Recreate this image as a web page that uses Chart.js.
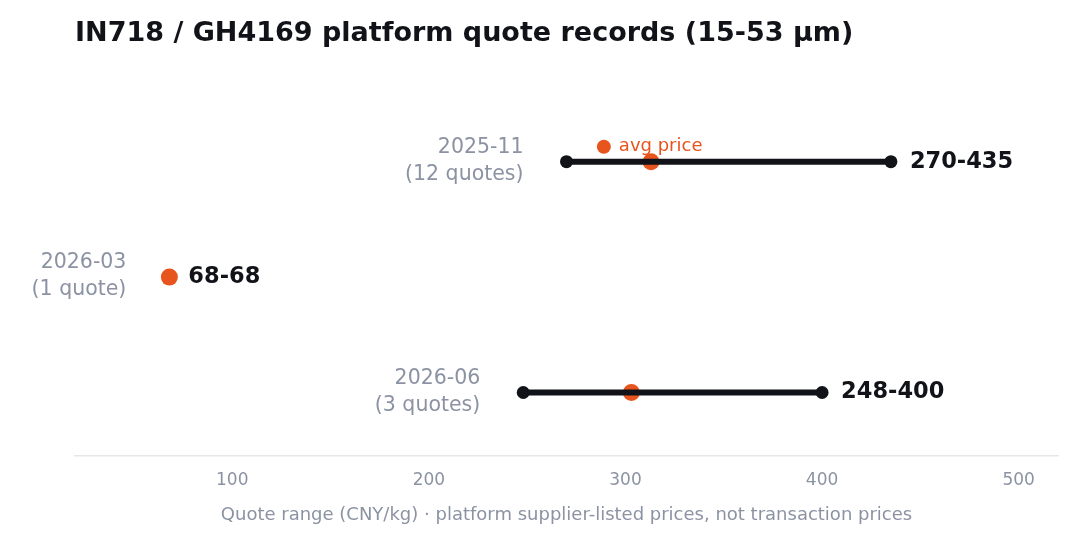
<!DOCTYPE html>
<html><head><meta charset="utf-8">
<script src="https://cdn.jsdelivr.net/npm/chart.js@4"></script>
<style>html,body{margin:0;background:#fff}#wrap{width:1080px;height:540px}</style>
</head><body><div id="wrap"><canvas id="c"></canvas></div>
<script>
const periods = ['2025-11', '2026-03', '2026-06'];
const quoteCounts = ['(12 quotes)', '(1 quote)', '(3 quotes)'];
const lowPrices = [270, 68, 248];
const highPrices = [435, 68, 400];
const avgPrices = [313, 68, 303];
const xTicks = [100, 200, 300, 400, 500];

const DARK = '#111318', ORANGE = '#e8541e', GRAY = '#8b93a3';
const FONT = '"DejaVu Sans", sans-serif';

const datasets = [];
periods.forEach((p, i) => {
    datasets.push({
        data: [{ x: lowPrices[i], y: i }, { x: highPrices[i], y: i }],
        showLine: true, borderColor: DARK, borderWidth: 6,
        pointRadius: lowPrices[i] === highPrices[i] ? 0 : 6.5,
        pointBackgroundColor: DARK, pointBorderWidth: 0
    });
});
datasets.push({
    data: avgPrices.map((v, i) => ({ x: v, y: i })),
    showLine: false, pointRadius: 8.5, pointBackgroundColor: ORANGE, pointBorderWidth: 0
});

const labelsPlugin = {
    id: 'labels',
    afterDatasetsDraw(chart) {
        const ctx = chart.ctx, xs = chart.scales.x, ys = chart.scales.y;
        ctx.save();
        ctx.fillStyle = DARK;
        ctx.font = 'bold 27px ' + FONT;
        ctx.textAlign = 'left'; ctx.textBaseline = 'middle';
        ctx.fillText('IN718 / GH4169 platform quote records (15-53 \u00b5m)', 75, 34);
        periods.forEach((p, i) => {
            const y = ys.getPixelForValue(i);
            const x0 = xs.getPixelForValue(lowPrices[i]);
            const x1 = xs.getPixelForValue(highPrices[i]);
            ctx.font = '20.5px ' + FONT; ctx.fillStyle = GRAY; ctx.textAlign = 'right';
            ctx.fillText(p, x0 - 43, y - 14);
            ctx.fillText(quoteCounts[i], x0 - 43, y + 13);
            ctx.font = 'bold 22.5px ' + FONT; ctx.fillStyle = DARK; ctx.textAlign = 'left';
            ctx.fillText(lowPrices[i] + '-' + highPrices[i], x1 + 19, y);
        });
        // legend
        const ly = ys.getPixelForValue(0) - 15, lx = xs.getPixelForValue(289);
        ctx.fillStyle = ORANGE;
        ctx.beginPath(); ctx.arc(lx, ly, 7, 0, Math.PI * 2); ctx.fill();
        ctx.font = '18px ' + FONT; ctx.textAlign = 'left';
        ctx.fillText('avg price', lx + 15, ly);
        ctx.restore();
    }
};

new Chart(document.getElementById('c'), {
    type: 'scatter',
    data: { datasets },
    plugins: [labelsPlugin],
    options: {
        responsive: true, maintainAspectRatio: false, animation: false,
        layout: { padding: { top: 104, left: 75, right: 22, bottom: 14 } },
        plugins: { legend: { display: false }, tooltip: { enabled: false } },
        scales: {
            x: {
                min: 20, max: 520,
                afterBuildTicks: s => { s.ticks = xTicks.map(v => ({ value: v })); },
                grid: { display: false, drawTicks: false },
                border: { color: '#e5e7eb', width: 1.5 },
                ticks: { color: GRAY, font: { size: 17, family: FONT }, padding: 14 },
                title: { display: true, text: 'Quote range (CNY/kg) \u00b7 platform supplier-listed prices, not transaction prices',
                    color: GRAY, font: { size: 18, family: FONT }, padding: { top: 0, bottom: 0 } }
            },
            y: { display: false, reverse: true, min: -0.5, max: 2.55 }
        },
        onResize: null
    }
});
</script></body></html>
